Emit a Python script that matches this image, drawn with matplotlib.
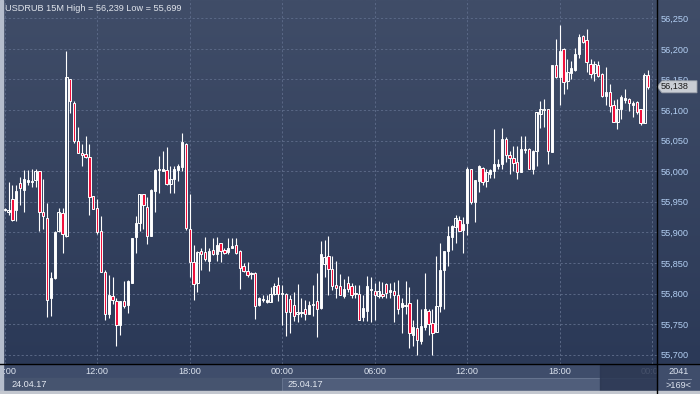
import numpy as np
import matplotlib.pyplot as plt
from matplotlib.patches import Rectangle, Polygon
from matplotlib.ticker import FuncFormatter

plt.rcParams['font.family'] = ['Liberation Sans', 'DejaVu Sans']

# USDRUB 15M candles, 24.04.17 06:00 -> 25.04.17 23:45
opens = [55.937, 55.933, 55.954, 55.936, 55.980, 55.970, 55.983, 55.983, 55.985, 56.001,
         55.934, 55.924, 55.793, 55.826, 55.902, 55.932, 55.894, 56.151, 56.112, 56.050,
         56.029, 56.028, 56.024, 55.960, 55.940, 55.903, 55.835, 55.767, 55.796, 55.788,
         55.749, 55.787, 55.781, 55.818, 55.893, 55.916, 55.962, 55.942, 55.894, 55.967,
         56.002, 56.001, 56.002, 55.979, 55.988, 56.002, 56.007, 56.045, 55.905, 55.851,
         55.817, 55.869, 55.868, 55.853, 55.871, 55.864, 55.882, 55.871, 55.868, 55.875,
         55.879, 55.869, 55.845, 55.837, 55.832, 55.834, 55.781, 55.789, 55.786, 55.786,
         55.800, 55.814, 55.799, 55.800, 55.791, 55.782, 55.766, 55.768, 55.774, 55.767,
         55.781, 55.787, 55.777, 55.849, 55.861, 55.840, 55.814, 55.812, 55.796, 55.817,
         55.812, 55.799, 55.800, 55.762, 55.772, 55.805, 55.804, 55.796, 55.800, 55.816,
         55.803, 55.804, 55.798, 55.778, 55.780, 55.785, 55.733, 55.744, 55.723, 55.745,
         55.772, 55.752, 55.737, 55.780, 55.838, 55.870, 55.893, 55.908, 55.921, 55.904,
         55.916, 56.003, 55.949, 55.984, 56.006, 55.984, 55.996, 56.001, 56.009, 56.011,
         56.053, 56.027, 56.021, 56.015, 55.999, 56.037, 56.037, 56.003, 56.033, 56.094,
         56.100, 56.101, 56.032, 56.174, 56.154, 56.199, 56.148, 56.161, 56.166, 56.191,
         56.221, 56.214, 56.176, 56.161, 56.174, 56.159, 56.123, 56.130, 56.109, 56.080,
         56.101, 56.117, 56.118, 56.109, 56.113, 56.101, 56.079, 56.157]
highs = [55.940, 55.983, 55.978, 55.977, 55.990, 56.002, 56.002, 56.003, 56.003, 56.001,
         55.987, 55.948, 55.836, 55.902, 55.940, 55.940, 56.196, 56.151, 56.114, 56.073,
         56.044, 56.057, 56.044, 55.960, 55.954, 55.926, 55.838, 55.831, 55.827, 55.793,
         55.788, 55.821, 55.822, 55.891, 55.926, 55.963, 55.963, 55.958, 55.971, 56.004,
         56.025, 56.033, 56.039, 56.008, 56.008, 56.011, 56.062, 56.046, 55.962, 55.879,
         55.869, 55.874, 55.892, 55.874, 55.891, 55.893, 55.883, 55.874, 55.891, 55.890,
         55.891, 55.871, 55.850, 55.851, 55.836, 55.835, 55.795, 55.797, 55.797, 55.811,
         55.817, 55.827, 55.814, 55.801, 55.797, 55.803, 55.816, 55.792, 55.789, 55.787,
         55.814, 55.834, 55.886, 55.887, 55.894, 55.862, 55.853, 55.832, 55.823, 55.828,
         55.817, 55.814, 55.814, 55.797, 55.828, 55.827, 55.817, 55.820, 55.819, 55.817,
         55.818, 55.819, 55.822, 55.792, 55.821, 55.810, 55.756, 55.791, 55.775, 55.834,
         55.775, 55.775, 55.861, 55.883, 55.869, 55.910, 55.912, 55.929, 55.926, 55.925,
         56.007, 56.004, 55.986, 56.010, 56.007, 56.003, 56.004, 56.069, 56.020, 56.070,
         56.056, 56.033, 56.042, 56.042, 56.057, 56.057, 56.038, 56.034, 56.097, 56.114,
         56.118, 56.101, 56.173, 56.216, 56.239, 56.202, 56.183, 56.181, 56.202, 56.224,
         56.223, 56.232, 56.183, 56.180, 56.180, 56.160, 56.171, 56.143, 56.116, 56.118,
         56.124, 56.135, 56.120, 56.115, 56.115, 56.102, 56.161, 56.165]
lows = [55.935, 55.929, 55.919, 55.919, 55.944, 55.933, 55.977, 55.975, 55.974, 55.903,
        55.906, 55.762, 55.763, 55.824, 55.901, 55.867, 55.893, 56.095, 56.046, 56.029,
        56.009, 56.022, 55.929, 55.938, 55.898, 55.835, 55.757, 55.760, 55.783, 55.714,
        55.733, 55.777, 55.768, 55.818, 55.866, 55.902, 55.906, 55.881, 55.894, 55.933,
        55.965, 56.000, 55.978, 55.965, 55.965, 55.984, 56.000, 55.904, 55.827, 55.790,
        55.803, 55.838, 55.854, 55.837, 55.863, 55.854, 55.852, 55.865, 55.865, 55.874,
        55.864, 55.808, 55.835, 55.827, 55.824, 55.759, 55.780, 55.786, 55.785, 55.786,
        55.797, 55.788, 55.749, 55.731, 55.736, 55.755, 55.754, 55.761, 55.756, 55.766,
        55.764, 55.729, 55.775, 55.827, 55.798, 55.805, 55.792, 55.797, 55.793, 55.803,
        55.792, 55.792, 55.756, 55.755, 55.755, 55.754, 55.756, 55.792, 55.792, 55.792,
        55.792, 55.754, 55.766, 55.736, 55.766, 55.711, 55.714, 55.699, 55.717, 55.740,
        55.732, 55.700, 55.737, 55.770, 55.775, 55.845, 55.871, 55.883, 55.902, 55.866,
        55.895, 55.947, 55.917, 55.966, 55.977, 55.974, 55.989, 55.989, 56.004, 56.004,
        56.015, 55.996, 56.001, 55.988, 55.998, 56.029, 56.003, 55.996, 56.009, 56.071,
        56.072, 56.011, 56.032, 56.153, 56.109, 56.126, 56.134, 56.150, 56.164, 56.185,
        56.210, 56.162, 56.153, 56.148, 56.154, 56.122, 56.108, 56.097, 56.081, 56.069,
        56.086, 56.112, 56.099, 56.089, 56.094, 56.076, 56.079, 56.134]
closes = [55.937, 55.936, 55.921, 55.967, 55.972, 55.988, 55.985, 55.984, 56.001, 55.934,
          55.926, 55.790, 55.826, 55.900, 55.934, 55.898, 56.154, 56.114, 56.050, 56.029,
          56.027, 56.023, 55.958, 55.939, 55.900, 55.835, 55.767, 55.798, 55.790, 55.749,
          55.788, 55.779, 55.821, 55.890, 55.916, 55.962, 55.944, 55.894, 55.969, 56.002,
          56.004, 56.003, 55.979, 55.988, 56.003, 56.008, 56.047, 55.907, 55.852, 55.816,
          55.868, 55.864, 55.856, 55.869, 55.864, 55.880, 55.870, 55.867, 55.875, 55.878,
          55.867, 55.841, 55.837, 55.830, 55.834, 55.780, 55.792, 55.791, 55.789, 55.800,
          55.812, 55.799, 55.801, 55.769, 55.770, 55.763, 55.769, 55.769, 55.767, 55.781,
          55.783, 55.774, 55.864, 55.859, 55.840, 55.813, 55.809, 55.798, 55.808, 55.808,
          55.798, 55.801, 55.757, 55.777, 55.812, 55.807, 55.798, 55.804, 55.796, 55.801,
          55.805, 55.798, 55.775, 55.784, 55.782, 55.736, 55.745, 55.724, 55.747, 55.774,
          55.750, 55.736, 55.779, 55.838, 55.869, 55.894, 55.910, 55.923, 55.902, 55.913,
          56.003, 55.950, 55.985, 56.008, 55.983, 55.998, 56.002, 56.011, 56.011, 56.052,
          56.026, 56.021, 56.014, 55.998, 56.037, 56.034, 56.004, 56.033, 56.096, 56.101,
          56.102, 56.033, 56.173, 56.154, 56.197, 56.146, 56.163, 56.169, 56.191, 56.220,
          56.211, 56.178, 56.159, 56.175, 56.156, 56.123, 56.129, 56.106, 56.081, 56.101,
          56.121, 56.120, 56.111, 56.112, 56.097, 56.079, 56.158, 56.138]

price_ticks = [55.70, 55.75, 55.80, 55.85, 55.90, 55.95, 56.00, 56.05, 56.10, 56.15, 56.20, 56.25]
time_ticks = [0, 24, 48, 72, 96, 120, 144, 168]
time_labels = ['06:00', '12:00', '18:00', '00:00', '06:00', '12:00', '18:00', '00:00']
date_labels = ['24.04.17', '25.04.17']
day_start = 72  # 25.04.17 00:00 bar
title = 'USDRUB 15M High = 56,239 Low = 55,699'

W, H = 700, 394
fig = plt.figure(figsize=(W / 100, H / 100), dpi=100)

# background / chrome in pixel coordinates
bg = fig.add_axes([0, 0, 1, 1], zorder=0)
bg.set_xlim(0, W)
bg.set_ylim(H, 0)
bg.axis('off')
top_c = np.array([64, 77, 104]) / 255
bot_c = np.array([43, 57, 87]) / 255
t = np.linspace(0, 1, 256)[:, None, None]
grad = top_c * (1 - t) + bot_c * t
bg.imshow(grad, extent=[0, W, 364, 0], aspect='auto', interpolation='bilinear')
bg.add_patch(Rectangle((0, 364), W, 14, color='#3f4d6b'))
bg.add_patch(Rectangle((0, 378), W, 13, color='#46546f'))
bg.add_patch(Rectangle((657, 364), 43, 30, color='#3f4d6b'))

# main candle axes
x0, x1 = 4, 657
step = 3.854
ax = fig.add_axes([x0 / W, (H - 364) / H, (x1 - x0) / W, 364 / H], zorder=1)
ax.patch.set_alpha(0)
ax.set_xlim((x0 - 4.7) / step, (x1 - 4.7) / step)
ax.set_ylim(55.70 - 9.3 / 611.6, 56.25 + 18.3 / 611.6)
for s in ax.spines.values():
    s.set_visible(False)

for y in price_ticks:
    ax.axhline(y, color='#5a6886', lw=0.7, ls=(0, (2.2, 2.2)), zorder=0)
for x in time_ticks:
    ax.axvline(x, color='#5a6886', lw=0.7, ls=(0, (2.2, 2.2)), zorder=0)

o = np.array(opens)
c = np.array(closes)
idx = np.arange(len(o))
ax.vlines(idx, lows, highs, color='white', lw=0.8, zorder=2)
body_lo = np.minimum(o, c)
body_h = np.maximum(np.abs(c - o), 0.0006)
fills = ['#f0103c' if cc < oo else (0, 0, 0, 0) for oo, cc in zip(o, c)]
ax.bar(idx, body_h, bottom=body_lo, width=0.6, color=fills, edgecolor='white',
       linewidth=0.7, zorder=3)

ax.set_xticks([])
ax.yaxis.tick_right()
ax.set_yticks(price_ticks)
ax.yaxis.set_major_formatter(FuncFormatter(lambda v, p: f'{v:.3f}'.replace('.', ',')))
ax.tick_params(axis='y', length=0, pad=2.5, labelsize=6.6, labelcolor='#b3cff3')

# time axis strip
ax_t = fig.add_axes([x0 / W, 3 / H, (x1 - x0) / W, 27 / H], zorder=1)
ax_t.patch.set_alpha(0)
ax_t.set_xlim(ax.get_xlim())
ax_t.set_ylim(391, 364)
ax_t.axis('off')
ax_t.add_patch(Rectangle((day_start, 378), 200, 13, facecolor='#505e7b',
                         edgecolor='#66748f', lw=0.7))
for x, lab in zip(time_ticks, time_labels):
    ax_t.text(x, 371.5, lab, ha='center', va='center', fontsize=6.6, color='#dbe2ee', clip_on=True)
ax_t.text(ax.get_xlim()[0] + 2.0, 385, date_labels[0], ha='left', va='center',
          fontsize=6.6, color='#e2e7f0', clip_on=True)
ax_t.text(day_start + 1.3, 385, date_labels[1], ha='left', va='center',
          fontsize=6.6, color='#e2e7f0', clip_on=True)

# overlay: borders, dark block, price tag, counters
ov = fig.add_axes([0, 0, 1, 1], zorder=3)
ov.set_xlim(0, W)
ov.set_ylim(H, 0)
ov.axis('off')
ov.add_patch(Rectangle((600, 365), 57, 26, color='#2b3752', alpha=0.85))
ov.plot([0, W], [364, 364], color='black', lw=1.0)
ov.plot([657, 657], [0, H], color='black', lw=1.0)
ov.add_patch(Rectangle((0, 0), 3, H, color='#b5bdcc'))
ov.add_patch(Rectangle((0, 391), W, 3, color='#c3c7cf'))
ov.text(5, 8, title, ha='left', va='center', fontsize=6.6, color='#e0e4eb')

last = closes[-1]
y_tag = H - ax.transData.transform((0, last))[1]
ov.add_patch(Polygon([(657, y_tag), (662, y_tag - 6), (697, y_tag - 6), (697, y_tag + 6),
                      (662, y_tag + 6)], closed=True, facecolor='#c9cdd4',
                     edgecolor='#9aa0aa', lw=0.6))
ov.text(661, y_tag, f'{last:.3f}'.replace('.', ','), ha='left', va='center',
        fontsize=6.6, color='#1c1c1c')
ov.text(679, 372, '2041', ha='center', va='center', fontsize=6.6, color='#dbe2ee')
ov.plot([668, 691], [378.5, 378.5], color='#8c98ae', lw=0.6)
ov.text(679, 385, '>169<', ha='center', va='center', fontsize=6.6, color='#dbe2ee')

fig.savefig('out.png', dpi=100)
